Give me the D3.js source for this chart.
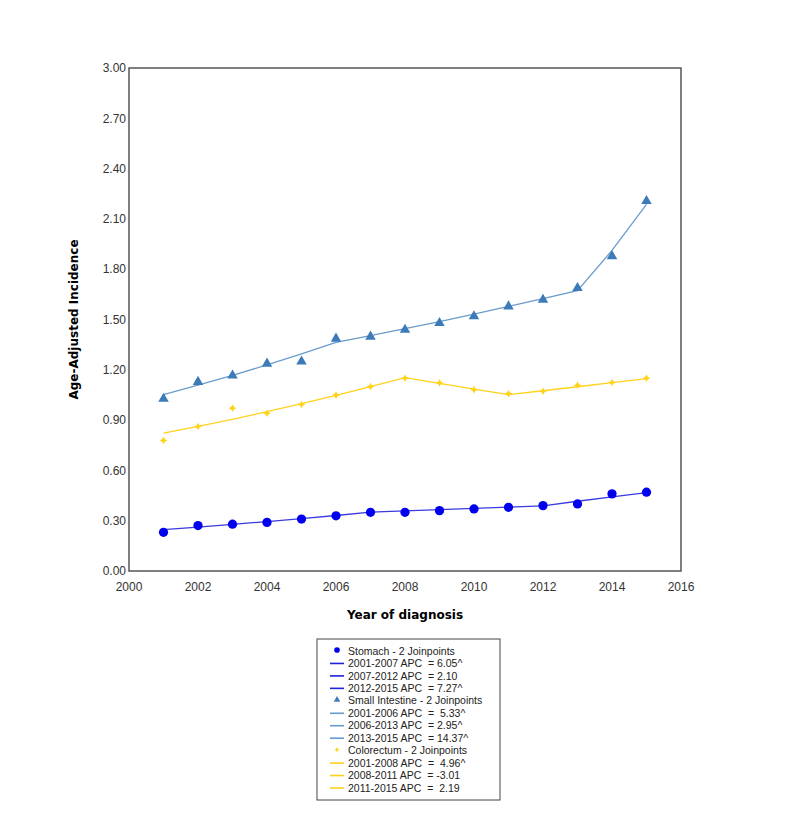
<!DOCTYPE html>
<html>
<head>
<meta charset="utf-8">
<script src="https://cdn.jsdelivr.net/npm/d3@7"></script>
<style>
body { margin:0; background:#fff; }
text { font-family: "Liberation Sans", Arial, sans-serif; white-space: pre; }
</style>
</head>
<body>
<div id="chart"></div>
<script>
var years = [2001,2002,2003,2004,2005,2006,2007,2008,2009,2010,2011,2012,2013,2014,2015];

var stomachObs = [0.231,0.271,0.279,0.290,0.310,0.329,0.350,0.350,0.360,0.370,0.380,0.390,0.400,0.460,0.470];
var stomachFit = [0.247,0.262,0.278,0.295,0.312,0.331,0.351,0.358,0.366,0.374,0.381,0.389,0.416,0.442,0.468];

var smallObs = [1.027,1.128,1.166,1.237,1.249,1.386,1.398,1.439,1.479,1.519,1.578,1.618,1.688,1.878,2.207];
var smallFit = [1.052,1.108,1.167,1.229,1.295,1.364,1.404,1.446,1.488,1.532,1.578,1.624,1.672,1.912,2.187];

var colorObs = [0.779,0.862,0.971,0.941,0.993,1.049,1.100,1.150,1.122,1.082,1.058,1.072,1.108,1.124,1.150];
var colorFit = [0.822,0.863,0.905,0.950,0.998,1.047,1.099,1.153,1.119,1.085,1.052,1.075,1.099,1.123,1.147];

var xTicks = [2000,2002,2004,2006,2008,2010,2012,2014,2016];
var yTicks = [0,0.3,0.6,0.9,1.2,1.5,1.8,2.1,2.4,2.7,3.0];

var legendRows = [
  ["marker","circle","Stomach - 2 Joinpoints"],
  ["line","circle","2001-2007 APC  = 6.05^"],
  ["line","circle","2007-2012 APC  = 2.10"],
  ["line","circle","2012-2015 APC  = 7.27^"],
  ["marker","triangle","Small Intestine - 2 Joinpoints"],
  ["line","triangle","2001-2006 APC  =  5.33^"],
  ["line","triangle","2006-2013 APC  = 2.95^"],
  ["line","triangle","2013-2015 APC  = 14.37^"],
  ["marker","plus","Colorectum - 2 Joinpoints"],
  ["line","plus","2001-2008 APC  =  4.96^"],
  ["line","plus","2008-2011 APC  = -3.01"],
  ["line","plus","2011-2015 APC  =  2.19"]
];

var W = 800, H = 830;
var plotL = 129, plotR = 681, plotT = 68, plotB = 571;

var svg = d3.select("#chart").append("svg").attr("width", W).attr("height", H);

var x = d3.scaleLinear().domain([2000,2016]).range([plotL,plotR]);
var y = d3.scaleLinear().domain([0,3]).range([plotB,plotT]);

// frame
svg.append("rect")
  .attr("x", plotL).attr("y", plotT)
  .attr("width", plotR-plotL).attr("height", plotB-plotT)
  .attr("fill", "none").attr("stroke", "#555").attr("stroke-width", 1.5);

// y tick labels
svg.append("g").selectAll("text").data(yTicks).enter().append("text")
  .attr("x", plotL-3).attr("y", function(d){ return y(d); })
  .attr("dy", "0.35em")
  .attr("text-anchor", "end")
  .attr("font-size", "12px").attr("fill", "#333")
  .text(function(d){ return d3.format(".2f")(d); });

// x tick labels
svg.append("g").selectAll("text").data(xTicks).enter().append("text")
  .attr("x", function(d){ return x(d); }).attr("y", 591)
  .attr("text-anchor", "middle")
  .attr("font-size", "12px").attr("fill", "#333")
  .text(function(d){ return d; });

// axis titles
svg.append("text")
  .attr("transform", "translate(78," + ((plotT+plotB)/2) + ") rotate(-90)")
  .attr("text-anchor", "middle")
  .attr("font-size", "12px").attr("font-weight", "bold")
  .style("font-family", "'DejaVu Sans', Verdana, sans-serif")
  .text("Age-Adjusted Incidence");

svg.append("text")
  .attr("x", (plotL+plotR)/2).attr("y", 619)
  .attr("text-anchor", "middle")
  .attr("font-size", "12px").attr("font-weight", "bold")
  .style("font-family", "'DejaVu Sans', Verdana, sans-serif")
  .text("Year of diagnosis");

var series = [
  {obs: stomachObs, fit: stomachFit, mcolor: "#0000ee", lcolor: "#3a3ae0", shape: "circle"},
  {obs: smallObs, fit: smallFit, mcolor: "#3d7ab8", lcolor: "#6a9ccb", shape: "triangle"},
  {obs: colorObs, fit: colorFit, mcolor: "#ffd21a", lcolor: "#ffd21a", shape: "plus"}
];

var line = d3.line()
  .x(function(d,i){ return x(years[i]); })
  .y(function(d){ return y(d); });

function symbolFor(shape, size){
  if(shape == "circle") return d3.symbol().type(d3.symbolCircle).size(size*4.2)();
  return d3.symbol().type(d3.symbolTriangle).size(size*3)();
}

function plusPath(r){
  var w = r*0.35;
  return "M0," + (-r) + "L" + w + "," + (-w) + "L" + r + ",0L" + w + "," + w +
    "L0," + r + "L" + (-w) + "," + w + "L" + (-r) + ",0L" + (-w) + "," + (-w) + "Z";
}

series.forEach(function(s){
  svg.append("path")
    .datum(s.fit)
    .attr("d", line)
    .attr("fill", "none")
    .attr("stroke", s.lcolor)
    .attr("stroke-width", 1.3);

  svg.append("g").selectAll("path").data(s.obs).enter().append("path")
    .attr("transform", function(d,i){ return "translate(" + x(years[i]) + "," + y(d) + ")"; })
    .attr("d", s.shape == "plus" ? plusPath(3.8) : symbolFor(s.shape, 16))
    .attr("fill", s.mcolor);
});

// legend
var lx = 317, ly = 639, lw = 183, lh = 161;
svg.append("rect")
  .attr("x", lx).attr("y", ly).attr("width", lw).attr("height", lh)
  .attr("fill", "#fff").attr("stroke", "#444").attr("stroke-width", 1);

var colorsByShape = {circle: series[0], triangle: series[1], plus: series[2]};

var rowY = d3.scaleLinear().domain([0,11]).range([651,788]);

legendRows.forEach(function(r,i){
  var s = colorsByShape[r[1]];
  var yy = rowY(i);
  if(r[0] == "line"){
    svg.append("line")
      .attr("x1", 330).attr("x2", 344)
      .attr("y1", yy).attr("y2", yy)
      .attr("stroke", s.shape == "circle" ? "#2020dd" : s.lcolor)
      .attr("stroke-width", 1.6);
  } else {
    svg.append("path")
      .attr("transform", "translate(337," + (yy-1) + ")")
      .attr("d", r[1] == "plus" ? plusPath(2.5) : symbolFor(r[1], 6))
      .attr("fill", s.mcolor);
  }
  svg.append("text")
    .attr("x", 348).attr("y", yy)
    .attr("dy", "0.35em")
    .attr("font-size", "10.5px").attr("fill", "#222")
    .text(r[2]);
});
</script>
</body>
</html>
